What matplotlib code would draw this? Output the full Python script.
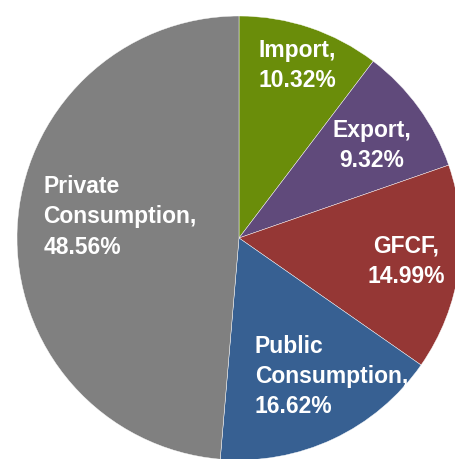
import numpy as np
import matplotlib.pyplot as plt

plt.rcParams['font.family'] = ['Liberation Sans', 'DejaVu Sans']

categories = ['Import', 'Export', 'GFCF', 'Public\nConsumption', 'Private\nConsumption']
shares = [10.32, 9.32, 14.99, 16.62, 48.56]
colors = ['#6A8D0A', '#604A7B', '#953735', '#376092', '#808080']

# label placement: distance from centre (fraction of radius), angle tweak in degrees
label_dist = [0.82, 0.73, 0.76, 0.75, 0.545]
angle_shift = [0, -1, 0, 8.7, -7.6]

fig = plt.figure(figsize=(4.56, 4.59), dpi=100)
cx, cy, r = 239, 238, 222
ax = fig.add_axes([(cx - r) / 456, (459 - cy - r) / 459, 2 * r / 456, 2 * r / 459])

wedges, _ = ax.pie(shares, colors=colors, startangle=90, counterclock=False,
                   radius=1, wedgeprops=dict(edgecolor='white', linewidth=0.3))
ax.set_xlim(-1, 1)
ax.set_ylim(-1, 1)
ax.set_aspect('equal')
ax.axis('off')

for i, w in enumerate(wedges):
    mid = np.deg2rad((w.theta1 + w.theta2) / 2 + angle_shift[i])
    x = label_dist[i] * np.cos(mid)
    y = label_dist[i] * np.sin(mid)
    txt = f"{categories[i]},\n{shares[i]:.2f}%"
    ma = 'left' if 'Consumption' in categories[i] else 'center'
    ax.text(x, y, txt, ha='center', va='center', ma=ma, color='white',
            fontsize=16.5, fontweight='bold', linespacing=1.4)

fig.savefig('out.png', dpi=100)
